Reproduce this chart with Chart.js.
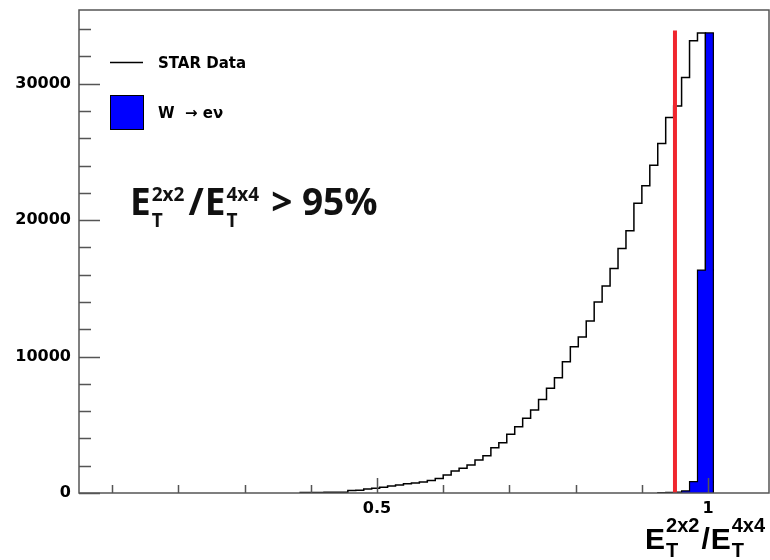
<!DOCTYPE html>
<html>
<head>
<meta charset="utf-8">
<script src="https://cdn.jsdelivr.net/npm/chart.js@4.4.1/dist/chart.umd.min.js"></script>
<style>
html, body { margin: 0; padding: 0; background: #fff; }
#wrap { width: 770px; height: 560px; }
</style>
</head>
<body>
<div id="wrap"><canvas id="myChart" width="770" height="560"></canvas></div>
<script>
// histogram bins are 0.012 wide, only the filled ones are listed
var binWidth = 0.012;
var starFirstBin = 0.384;
var starCounts = [40, 40, 45, 50, 55, 60, 190, 200, 290, 340, 430, 520, 590, 670, 740, 800,
  910, 1070, 1320, 1610, 1810, 2050, 2420, 2730, 3320, 3690, 4300, 4860, 5470, 6080, 6860,
  7670, 8450, 9620, 10720, 11430, 12610, 13990, 15170, 16460, 17920, 19220, 21240, 22510,
  24030, 25620, 27520, 28370, 30450, 33140, 33720];
var wFirstBin = 0.924;
var wCounts = [30, 40, 60, 150, 830, 16340, 33720];
var cutValue = 0.95;
var cutTop = 33900;

var xLabelTicks = [0.5, 1];
var xMinorTicks = [0.1, 0.2, 0.3, 0.4, 0.5, 0.6, 0.7, 0.8, 0.9, 1.0];
var yLabelTicks = [0, 10000, 20000, 30000];
var yMinorStep = 2000;

var labels = ['STAR Data', 'W  \u2192 e\u03BD'];

function histPoints(first, counts) {
  var pts = [{x: first, y: 0}];
  for (var i = 0; i < counts.length; i++) {
    pts.push({x: first + i * binWidth, y: counts[i]});
  }
  pts.push({x: first + counts.length * binWidth, y: 0});
  return pts;
}

Chart.defaults.font.family = 'DejaVu Sans';
Chart.defaults.font.weight = 'bold';
Chart.defaults.font.size = 16;
Chart.defaults.color = '#000';

// draws E_T^{a}/E_T^{b} style text
function drawRatio(ctx, x, base, bigFont, smallFont, supUp, subDown, gap, tail) {
  var parts = [['E', '2x2'], ['E', '4x4']];
  for (var p = 0; p < parts.length; p++) {
    ctx.font = bigFont;
    ctx.fillText('E', x, base);
    x += ctx.measureText('E').width + 1;
    ctx.font = smallFont;
    ctx.fillText(parts[p][1], x, base - supUp);
    ctx.fillText('T', x, base + subDown);
    x += Math.max(ctx.measureText(parts[p][1]).width, ctx.measureText('T').width) + gap;
    if (p === 0) {
      ctx.font = bigFont;
      ctx.fillText('/', x, base);
      x += ctx.measureText('/').width + 1;
    }
  }
  if (tail) {
    ctx.font = bigFont;
    ctx.fillText(tail, x + 8, base);
  }
}

function noPad(scale) {
  scale.paddingTop = 0;
  scale.paddingBottom = 0;
  scale.paddingLeft = 0;
  scale.paddingRight = 0;
}

var rootStyle = {
  id: 'rootStyle',
  afterDraw: function(chart) {
    var ctx = chart.ctx;
    var a = chart.chartArea;
    var xs = chart.scales.x, ys = chart.scales.y;
    ctx.save();
    ctx.strokeStyle = '#555';
    ctx.lineWidth = 1.5;
    ctx.strokeRect(a.left, a.top, a.right - a.left, a.bottom - a.top);
    ctx.beginPath();
    xMinorTicks.forEach(function(v) {
      var px = Math.round(xs.getPixelForValue(v)) + 0.5;
      var len = xLabelTicks.indexOf(v) >= 0 || Math.abs(v - 1) < 1e-9 ? 15 : 8;
      ctx.moveTo(px, a.bottom);
      ctx.lineTo(px, a.bottom - len);
    });
    for (var v = 0; v <= ys.max; v += yMinorStep) {
      var py = Math.round(ys.getPixelForValue(v)) + 0.5;
      var len = yLabelTicks.indexOf(v) >= 0 ? 21 : 12;
      ctx.moveTo(a.left, py);
      ctx.lineTo(a.left + len, py);
    }
    ctx.stroke();

    // legend
    var ds = chart.data.datasets;
    ctx.strokeStyle = ds[2].borderColor;
    ctx.lineWidth = 1.5;
    ctx.beginPath();
    ctx.moveTo(110, 62.5);
    ctx.lineTo(143, 62.5);
    ctx.stroke();
    ctx.fillStyle = ds[1].backgroundColor;
    ctx.fillRect(110, 95, 33, 34);
    ctx.strokeStyle = '#000';
    ctx.lineWidth = 1;
    ctx.strokeRect(110.5, 95.5, 33, 34);
    ctx.fillStyle = '#000';
    ctx.font = 'bold 15px "DejaVu Sans"';
    ctx.textBaseline = 'alphabetic';
    ctx.fillText(ds[2].label, 158, 68);
    ctx.fillText(ds[1].label, 158, 118);

    // cut annotation
    ctx.fillStyle = '#111';
    drawRatio(ctx, 130, 215, 'bold 37px "Open Sans"', 'bold 19px "Open Sans"', 14, 12, 4, '> 95%');

    // x axis title
    ctx.fillStyle = '#000';
    drawRatio(ctx, 645, 549, 'bold 30px "Liberation Sans"', 'bold 20px "Liberation Sans"', 17, 8, 2, null);
    ctx.restore();
  }
};

var ctx = document.getElementById('myChart');
var chart = new Chart(ctx, {
  type: 'line',
  data: {
    datasets: [{
      label: 'cut',
      data: [{x: cutValue, y: 0}, {x: cutValue, y: cutTop}],
      borderColor: '#f0262e',
      borderWidth: 4,
      pointRadius: 0,
      order: 0
    }, {
      label: labels[1],
      data: histPoints(wFirstBin, wCounts),
      stepped: 'before',
      fill: 'origin',
      backgroundColor: '#0000ff',
      borderColor: '#000',
      borderWidth: 1.2,
      pointRadius: 0,
      order: 1
    }, {
      label: labels[0],
      data: histPoints(starFirstBin, starCounts),
      stepped: 'before',
      borderColor: '#000',
      borderWidth: 1.5,
      pointRadius: 0,
      order: 2
    }]
  },
  options: {
    responsive: false,
    animation: false,
    devicePixelRatio: 1,
    layout: { padding: { top: 10, right: 1, left: 0, bottom: 0 } },
    plugins: {
      legend: { display: false },
      tooltip: { enabled: false }
    },
    scales: {
      x: {
        type: 'linear',
        min: 0.05,
        max: 1.092,
        grid: { display: false, drawTicks: false },
        border: { display: false },
        afterBuildTicks: function(scale) {
          scale.ticks = xLabelTicks.map(function(v) { return {value: v}; });
        },
        afterFit: function(scale) { scale.height = 67; noPad(scale); },
        ticks: {
          padding: 6,
          maxRotation: 0,
          callback: function(value) { return String(value); }
        }
      },
      y: {
        min: 0,
        max: 35400,
        grid: { display: false, drawTicks: false },
        border: { display: false },
        afterBuildTicks: function(scale) {
          scale.ticks = yLabelTicks.map(function(v) { return {value: v}; });
        },
        afterFit: function(scale) { scale.width = 79; noPad(scale); },
        ticks: {
          padding: 8,
          callback: function(value) { return String(value); }
        }
      }
    }
  },
  plugins: [rootStyle]
});
</script>
</body>
</html>
